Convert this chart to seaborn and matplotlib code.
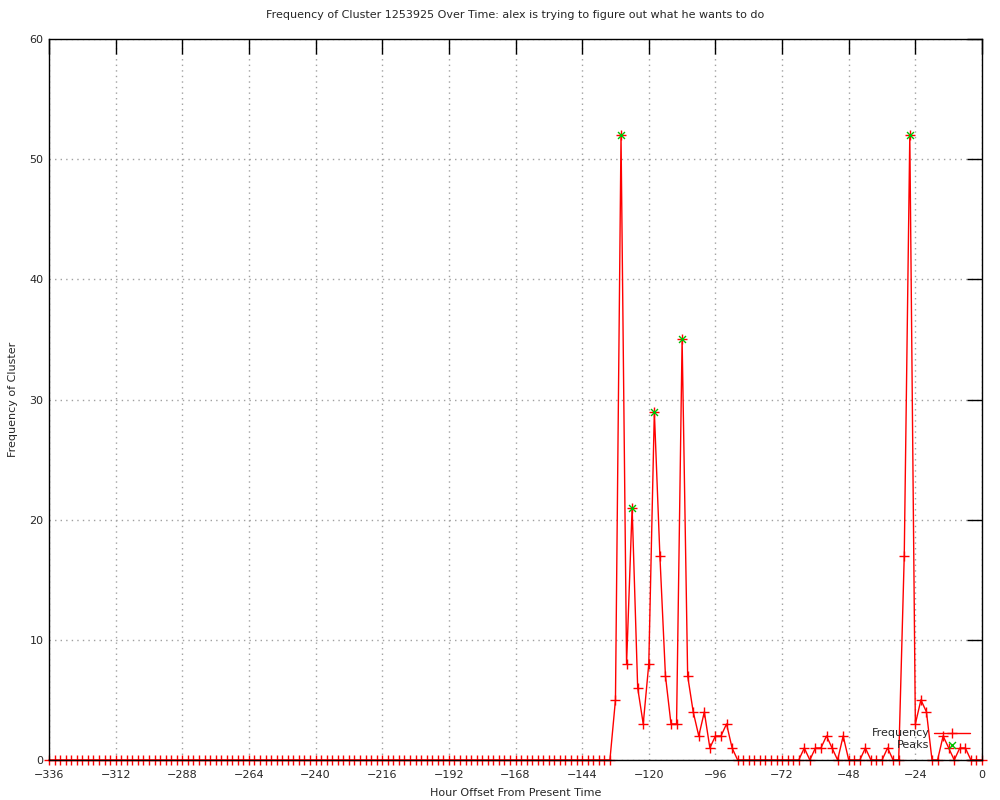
import numpy as np
import pandas as pd
import matplotlib
matplotlib.use("Agg")
import matplotlib.pyplot as plt
import seaborn as sns

# ---- data ----
hours = list(range(-336, 1, 2))  # every 2 hours from -336 to 0
freq_early = [0] * 102  # -336 .. -134: all zero
freq_late = [5, 52, 8, 21, 6, 3, 8, 29, 17, 7, 3, 3, 35, 7, 4, 2, 4, 1, 2, 2, 3, 1,   # -132 .. -90
             0, 0, 0, 0, 0, 0, 0, 0, 0, 0, 0, 0,                                     # -88 .. -66
             1, 0, 1, 1, 2, 1, 0, 2, 0, 0, 0, 1, 0, 0, 0, 1, 0, 0,                    # -64 .. -30
             17, 52, 3, 5, 4, 0, 0, 2, 1, 0, 1, 1, 0, 0, 0]                           # -28 .. 0
frequency = freq_early + freq_late

peak_hours = [-130, -126, -118, -108, -26]
peak_values = [52, 21, 29, 35, 52]

x_ticks = list(range(-336, 1, 24))
y_ticks = list(range(0, 61, 10))

title = "Frequency of Cluster 1253925 Over Time: alex is trying to figure out what he wants to do"
x_label = "Hour Offset From Present Time"
y_label = "Frequency of Cluster"

df = pd.DataFrame({"hour": hours, "frequency": frequency})
peaks = pd.DataFrame({"hour": peak_hours, "frequency": peak_values})

sns.set_theme(style="white")
plt.rcParams["font.family"] = ["DejaVu Sans"]

fig = plt.figure(figsize=(10, 8), dpi=100)
ax = fig.add_axes([0.049, 0.05, 0.933, 0.90125])

sns.lineplot(data=df, x="hour", y="frequency", ax=ax, color="#ff0000", linewidth=1,
             marker="+", markersize=6.5, markeredgewidth=1, markeredgecolor="#ff0000",
             label="Frequency", clip_on=False, zorder=1.5)
sns.scatterplot(data=peaks, x="hour", y="frequency", ax=ax, color="#00c000", marker="x",
                s=25, linewidth=1, label="Peaks", clip_on=False, zorder=3)

ax.set_xlim(-336, 0)
ax.set_ylim(0, 60)
ax.set_xticks(x_ticks)
ax.set_yticks(y_ticks)
ax.tick_params(axis="both", which="major", direction="in", length=11, width=1,
               color="black", labelsize=8, top=True, right=True, pad=4)
ax.tick_params(axis="x", pad=7)
ax.grid(True, linestyle=(0, (1, 3)), color="#a0a0a0", linewidth=1)
for s in ax.spines.values():
    s.set_color("black")
    s.set_linewidth(1)
    s.set_zorder(5)

ax.set_xlabel(x_label, fontsize=8, labelpad=6)
ax.set_ylabel(y_label, fontsize=8, labelpad=8)
ax.set_title(title, fontsize=8, pad=15)

ax.legend(loc="lower right", bbox_to_anchor=(0.995, 0.003), frameon=False, markerfirst=False,
          fontsize=8, handlelength=3.2, handletextpad=0.4, labelspacing=0.15, borderpad=0.2)

fig.savefig("out.png", dpi=100)
